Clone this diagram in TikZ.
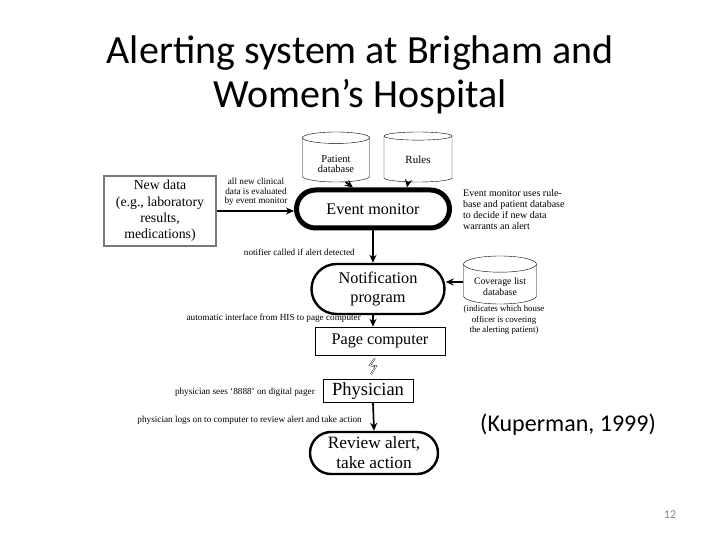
\documentclass[tikz,border=0pt]{standalone}
\usepackage{fontspec}
\setmainfont{Liberation Serif}
\newfontfamily\slidefont{Carlito}
\usepackage{xcolor}
\definecolor{slidegray}{RGB}{137, 137, 137}
\definecolor{boxgray}{RGB}{120, 120, 120}
\usetikzlibrary{arrows.meta, positioning, shapes.geometric, shapes.misc, calc}

\begin{document}
\begin{tikzpicture}[
    x=1pt, y=-1pt,
    >={Stealth[length=8pt, width=7pt]},
    flow/.style={->, line width=1.7pt},
    stadium/.style={rounded rectangle, draw, line width=2.4pt, inner sep=1pt, align=center},
    plainbox/.style={rectangle, draw, thin, inner sep=1pt},
    dbase/.style={cylinder, shape border rotate=90, aspect=0.3, draw, thin,
        inner sep=1pt, align=center, anchor=shape center},
    note/.style={font=\fontsize{9.2}{9.5}\selectfont, inner sep=0pt}
]
% page frame
\useasboundingbox[fill=white] (0,0) rectangle (720,540);

% slide title
\node[font=\slidefont\fontsize{40}{44}\selectfont, align=center] (title) at (360,75)
    {Alerting system at Brigham and\\Women’s Hospital};

% databases on top
\node[dbase, minimum width=67pt, minimum height=50pt, font=\fontsize{10.5}{10}\selectfont]
    (patient) at (336,157) {\mbox{}\\[4pt]Patient\\database};
\node[dbase, minimum width=68pt, minimum height=50pt, font=\fontsize{11}{11}\selectfont]
    (rules) at (418,157) {\mbox{}\\[-3pt]Rules};

% event monitor
\node[stadium, line width=5pt, minimum width=155pt, minimum height=38pt,
    font=\fontsize{16.2}{19}\selectfont] (event) at (373,209) {Event monitor};
\draw[flow] (patient.-66) -- ($(event.north)+(-20,0)$);
\draw[flow] (rules.-114) -- ($(event.north)+(34,0)$);

% new data
\node[rectangle, draw=boxgray, line width=2pt, minimum width=112pt, minimum height=70pt,
    font=\fontsize{13.8}{16.4}\selectfont, align=center] (newdata) at (160,211)
    {New data\\(e.g., laboratory\\results,\\medications)};
\draw[flow] (newdata.east) -- (newdata.east -| event.west);
\node[note, align=center, anchor=south] (newnote) at (256,206)
    {all new clinical\\data is evaluated\\by event monitor};

% note on the right of the event monitor
\node[font=\fontsize{10}{11}\selectfont, inner sep=0pt, align=left, anchor=north west]
    (eventnote) at (463,189)
    {Event monitor uses rule-\\base and patient database\\to decide if new data\\warrants an alert};

% notification program
\node[stadium, minimum width=135pt, minimum height=50pt,
    font=\fontsize{16.3}{19}\selectfont] (notif) at (378,289) {Notification\\program};
\draw[flow] (event.south) -- (event.south |- notif.north);
\node[note, anchor=east] (notifnote) at (355,252) {notifier called if alert detected};

% coverage list
\node[dbase, minimum width=73pt, minimum height=48pt, font=\fontsize{9.8}{11}\selectfont]
    (coverage) at (500,280) {\mbox{}\\[-1pt]Coverage list\\database};
\draw[flow] (coverage.west |- 0,282) -- (notif.east |- 0,282);
\node[font=\fontsize{8.8}{10.8}\selectfont, inner sep=0pt, align=center, anchor=north]
    (covnote) at (504,305)
    {(indicates which house\\officer is covering\\the alerting patient)};

% page computer
\node[plainbox, minimum width=130pt, minimum height=28pt,
    font=\fontsize{16.2}{19}\selectfont] (page) at (380,341) {Page computer};
\draw[flow] (notif.south -| event.south) -- (event.south |- page.north);
\node[note, anchor=east] (pagenote) at (361,318) {automatic interface from HIS to page computer};

% physician
\node[plainbox, minimum width=90pt, minimum height=23pt,
    font=\fontsize{18.5}{20}\selectfont] (physician) at (368,391) {Physician};
% pager signal
\draw[thin, double, double distance=0.8pt]
    ($(page.south -| event.south)+(2,3)$) -- ++(-5,7) -- ++(6,1) -- ++(-5,8);
\node[note, anchor=east] (physnote) at (315,392) {physician sees `8888' on digital pager};

% review alert
\node[stadium, minimum width=130pt, minimum height=42pt,
    font=\fontsize{17.3}{20}\selectfont] (review) at (374,453) {Review alert,\\take action};
\draw[flow] (physician.south -| event.south) -- (review.north);
\node[note, anchor=east] (reviewnote) at (362,420)
    {physician logs on to computer to review alert and take action};

% reference and page number
\node[font=\slidefont\fontsize{24}{28}\selectfont] (cite) at (568,425) {(Kuperman, 1999)};
\node[font=\slidefont\fontsize{12}{14}\selectfont, text=slidegray] (pagenum) at (670,515) {12};

\end{tikzpicture}
\end{document}
